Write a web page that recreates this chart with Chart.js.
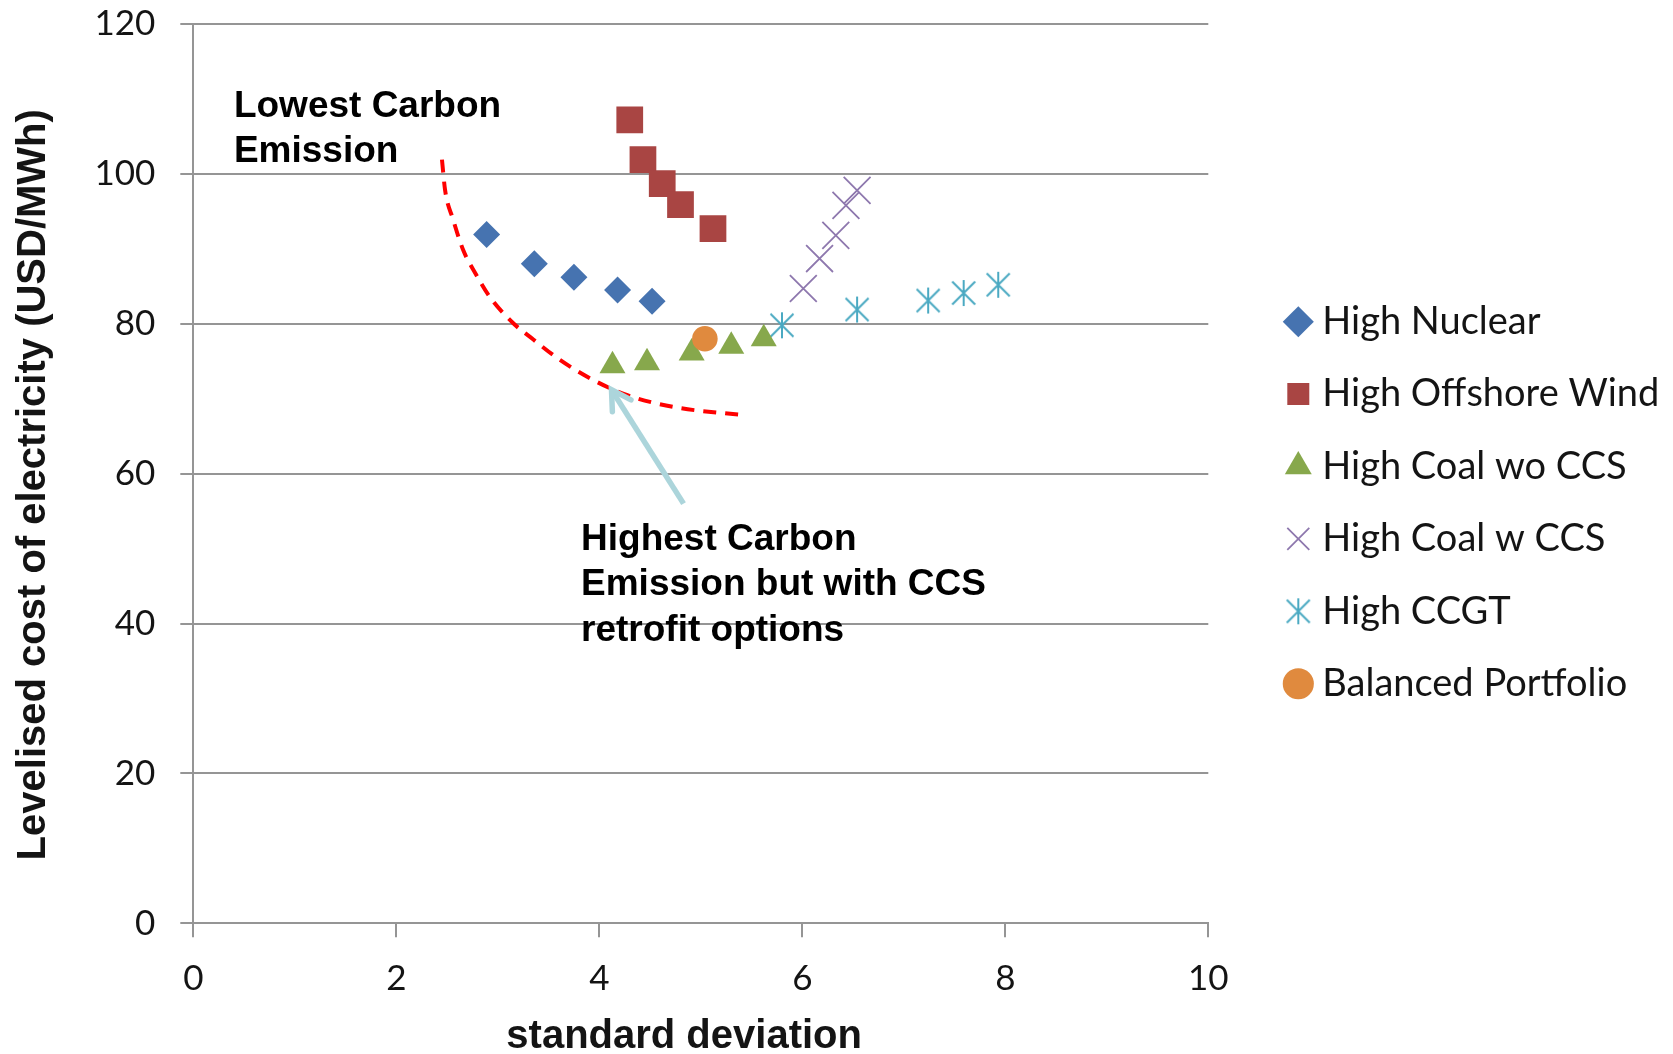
<!DOCTYPE html>
<html>
<head>
<meta charset="utf-8">
<script src="https://cdn.jsdelivr.net/npm/chart.js@4.4.0/dist/chart.umd.min.js"></script>
<style>
html,body{margin:0;padding:0;background:#ffffff;}
#wrap{width:1673px;height:1054px;position:relative;}
</style>
</head>
<body>
<div id="wrap"><canvas id="c" width="1673" height="1054"></canvas></div>
<script>
// ---------------- DATA ----------------
const seriesNames = ['High Nuclear', 'High Offshore Wind', 'High Coal wo CCS', 'High Coal w CCS', 'High CCGT', 'Balanced Portfolio'];
const xNuclear  = [2.89, 3.36, 3.75, 4.18, 4.52];
const yNuclear  = [91.9, 88.0, 86.2, 84.5, 83.0];
const xWind     = [4.30, 4.43, 4.62, 4.80, 5.12];
const yWind     = [107.2, 101.9, 98.7, 95.9, 92.7];
const xCoalWo   = [4.13, 4.47, 4.91, 5.30, 5.62];
const yCoalWo   = [74.4, 74.8, 76.1, 77.0, 78.0];
const xCoalW    = [6.01, 6.17, 6.33, 6.43, 6.54];
const yCoalW    = [84.7, 88.7, 91.8, 95.8, 97.8];
const xCCGT     = [5.80, 6.54, 7.24, 7.59, 7.93];
const yCCGT     = [79.8, 81.9, 83.1, 84.1, 85.2];
const xBalanced = [5.04];
const yBalanced = [78.0];
// hand-drawn annotation curve and arrow
const xFrontier = [2.45, 2.48, 2.56, 2.66, 2.78, 2.92, 3.15, 3.35, 3.61, 3.94, 4.27, 4.73, 5.42];
const yFrontier = [101.9, 97.9, 93.9, 89.8, 86.7, 83.6, 80.1, 77.9, 75.2, 72.5, 70.5, 68.9, 67.8];
const xArrow = [4.83, 4.12];
const yArrow = [56.0, 71.2];
// tick labels
const xTickValues = [0, 2, 4, 6, 8, 10];
const yTickValues = [0, 20, 40, 60, 80, 100, 120];
const xAxisTitle = 'standard deviation';
const yAxisTitle = 'Levelised cost of electricity (USD/MWh)';
const noteLowest = ['Lowest Carbon', 'Emission'];
const noteHighest = ['Highest Carbon', 'Emission but with CCS', 'retrofit options'];

// ---------------- STYLE / LAYOUT ----------------
const pts = (xs, ys) => xs.map((x, i) => ({x: x, y: ys[i]}));
const C = {
  nuclear: '#4673b0', wind: '#a94543', coalWo: '#87a84c', coalW: '#8e78ae',
  ccgt: '#4aa9c2', balanced: '#e08a3e', grid: '#959595', text: '#141414'
};
const tickFont = {family: 'Lato', size: 35};
const titleFontSpec = {family: '"Liberation Sans", Arial', size: 40, weight: 'bold'};
const legendFontSize = 38;
const legendPad = 34.4;
const legendMarkerX = 1298.3;
const legendFirstY = 321.7;
// trailing spaces nudge the centred axis titles to where the original sits
const xTitleNudge = '   ';
const yTitleNudge = '  ';

function makeAsterisk(color, r, d, lw) {
  const s = Math.ceil(2 * r + lw + 2);
  const cv = document.createElement('canvas');
  cv.width = s; cv.height = s;
  const g = cv.getContext('2d');
  g.strokeStyle = color; g.lineWidth = lw;
  const m = s / 2;
  g.beginPath();
  g.moveTo(m, m - r); g.lineTo(m, m + r);
  g.moveTo(m - d, m - d); g.lineTo(m + d, m + d);
  g.moveTo(m + d, m - d); g.lineTo(m - d, m + d);
  g.stroke();
  return cv;
}
const asterisk = makeAsterisk(C.ccgt, 13, 11.5, 2);

const legendPlacer = {
  id: 'legendPlacer',
  afterLayout(chart) {
    const lg = chart.legend;
    if (!lg) return;
    const h = lg.height;
    lg.left = legendMarkerX - 5 - legendPad;
    lg.right = chart.width;
    lg.width = lg.right - lg.left;
    lg.top = legendFirstY - legendFontSize / 2 - legendPad;
    lg.bottom = lg.top + h;
  }
};

const notesPlugin = {
  id: 'notes',
  afterDraw(chart) {
    const ctx = chart.ctx;
    const xs = chart.scales.x, ys = chart.scales.y;
    const notes = [
      {lines: noteLowest, x: 0.40, y: 107.63, gap: 45},
      {lines: noteHighest, x: 3.82, y: 49.8, gap: 45.4}
    ];
    ctx.save();
    ctx.fillStyle = '#000';
    ctx.font = 'bold 37px "Liberation Sans", Arial';
    ctx.textAlign = 'left';
    ctx.textBaseline = 'alphabetic';
    notes.forEach(n => {
      const px = xs.getPixelForValue(n.x);
      const py = ys.getPixelForValue(n.y);
      n.lines.forEach((t, i) => ctx.fillText(t, px, py + i * n.gap));
    });
    // arrow head on the arrow dataset
    const meta = chart.getDatasetMeta(7);
    const p0 = meta.data[0], p1 = meta.data[1];
    const ang = Math.atan2(p0.y - p1.y, p0.x - p1.x);
    const L = 22, spread = Math.PI / 6;
    ctx.strokeStyle = '#acd5db';
    ctx.lineWidth = 5.5;
    ctx.lineCap = 'round';
    ctx.beginPath();
    ctx.moveTo(p1.x + L * Math.cos(ang + spread), p1.y + L * Math.sin(ang + spread));
    ctx.lineTo(p1.x, p1.y);
    ctx.lineTo(p1.x + L * Math.cos(ang - spread), p1.y + L * Math.sin(ang - spread));
    ctx.stroke();
    ctx.restore();
  }
};

new Chart(document.getElementById('c'), {
  type: 'scatter',
  data: {
    datasets: [
      {label: seriesNames[0], data: pts(xNuclear, yNuclear), pointStyle: 'rectRot', pointRadius: 13.5,
       backgroundColor: C.nuclear, borderColor: C.nuclear, borderWidth: 0},
      {label: seriesNames[1], data: pts(xWind, yWind), pointStyle: 'rect', pointRadius: 18.9,
       backgroundColor: C.wind, borderColor: C.wind, borderWidth: 0},
      {label: seriesNames[2], data: pts(xCoalWo, yCoalWo), pointStyle: 'triangle', pointRadius: 15,
       backgroundColor: C.coalWo, borderColor: C.coalWo, borderWidth: 0},
      {label: seriesNames[3], data: pts(xCoalW, yCoalW), pointStyle: 'crossRot', pointRadius: 19,
       backgroundColor: C.coalW, borderColor: C.coalW, borderWidth: 1.8},
      {label: seriesNames[4], data: pts(xCCGT, yCCGT), pointStyle: asterisk, pointRadius: 13,
       backgroundColor: C.ccgt, borderColor: C.ccgt, borderWidth: 2},
      {label: seriesNames[5], data: pts(xBalanced, yBalanced), pointStyle: 'circle', pointRadius: 12.8,
       backgroundColor: C.balanced, borderColor: C.balanced, borderWidth: 0, order: -1},
      {label: 'frontier', type: 'line', data: pts(xFrontier, yFrontier), showLine: true, pointRadius: 0,
       borderColor: '#ff0000', borderWidth: 4, borderDash: [13, 9], cubicInterpolationMode: 'monotone', fill: false, order: 2},
      {label: 'arrow', type: 'line', data: pts(xArrow, yArrow), showLine: true, pointRadius: 0,
       borderColor: '#acd5db', borderWidth: 5.5, fill: false, order: 1}
    ]
  },
  options: {
    responsive: false,
    devicePixelRatio: 1,
    animation: false,
    events: [],
    layout: {padding: {top: 24, right: 84.7, bottom: 0, left: 0}},
    scales: {
      x: {
        type: 'linear', min: 0, max: 10,
        afterBuildTicks: (s) => { s.ticks = xTickValues.map(v => ({value: v})); },
        afterFit: (s) => { s.height = 130.7; s.paddingLeft = 0; s.paddingRight = 0; },
        grid: {drawOnChartArea: false, drawTicks: true, tickLength: 14, color: C.grid, lineWidth: 2},
        border: {display: true, color: C.grid, width: 2},
        ticks: {font: tickFont, color: C.text, padding: 20},
        title: {display: true, text: xAxisTitle + xTitleNudge, color: C.text,
                font: Object.assign({lineHeight: 0.85}, titleFontSpec), padding: {top: 0, bottom: 0}}
      },
      y: {
        type: 'linear', min: 0, max: 120,
        afterBuildTicks: (s) => { s.ticks = yTickValues.map(v => ({value: v})); },
        afterFit: (s) => { s.width = 193.3; s.paddingTop = 0; s.paddingBottom = 0; },
        grid: {drawOnChartArea: true, drawTicks: true, tickLength: 13, color: C.grid, lineWidth: 2},
        border: {display: true, color: C.grid, width: 2},
        ticks: {font: tickFont, color: C.text, padding: 25},
        title: {display: true, text: yAxisTitle + yTitleNudge, color: C.text,
                font: Object.assign({lineHeight: 1}, titleFontSpec), padding: {top: 14, bottom: 0}}
      }
    },
    plugins: {
      tooltip: {enabled: false},
      legend: {
        display: true, position: 'right', align: 'start', fullSize: false, maxWidth: 380,
        labels: {
          usePointStyle: true, boxWidth: 10, boxHeight: 22, padding: legendPad,
          color: C.text, font: {family: 'Lato', size: legendFontSize},
          filter: (item) => item.datasetIndex < 6,
          sort: (a, b) => a.datasetIndex - b.datasetIndex
        }
      }
    }
  },
  plugins: [legendPlacer, notesPlugin]
});
</script>
</body>
</html>
